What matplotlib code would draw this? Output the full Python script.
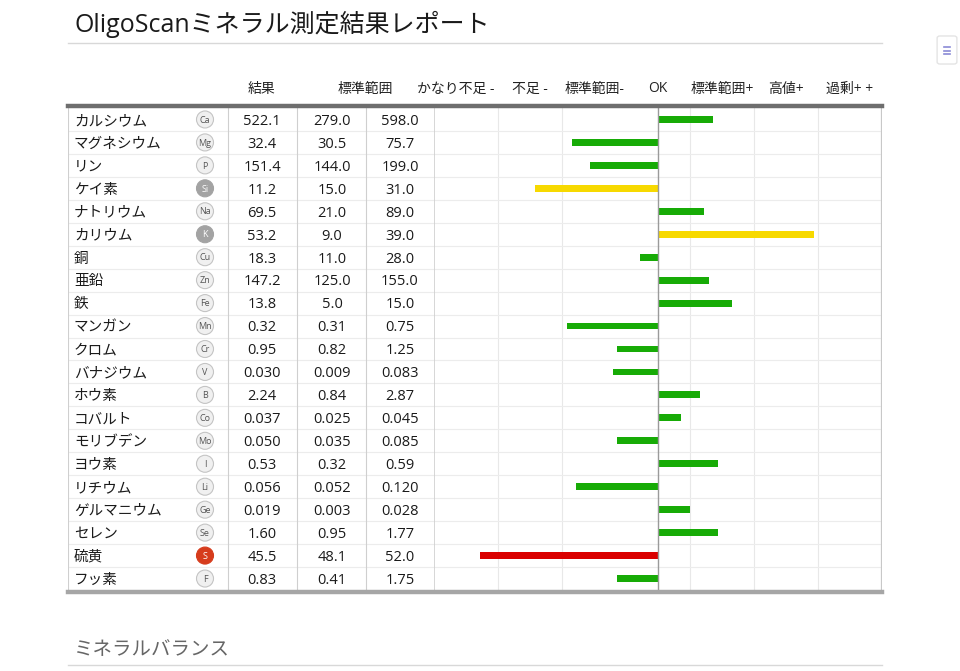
import matplotlib
matplotlib.use("Agg")
import matplotlib.pyplot as plt
from matplotlib.lines import Line2D
from matplotlib.patches import FancyBboxPatch

plt.rcParams['font.family'] = ['Open Sans', 'Noto Sans CJK JP', 'DejaVu Sans']

# --- data -------------------------------------------------------------
names = ["カルシウム", "マグネシウム", "リン", "ケイ素", "ナトリウム", "カリウム", "銅",
         "亜鉛", "鉄", "マンガン", "クロム", "バナジウム", "ホウ素", "コバルト",
         "モリブデン", "ヨウ素", "リチウム", "ゲルマニウム", "セレン", "硫黄", "フッ素"]
symbols = ["Ca", "Mg", "P", "Si", "Na", "K", "Cu", "Zn", "Fe", "Mn", "Cr", "V",
           "B", "Co", "Mo", "I", "Li", "Ge", "Se", "S", "F"]
results = ["522.1", "32.4", "151.4", "11.2", "69.5", "53.2", "18.3", "147.2", "13.8",
           "0.32", "0.95", "0.030", "2.24", "0.037", "0.050", "0.53", "0.056",
           "0.019", "1.60", "45.5", "0.83"]
range_low = ["279.0", "30.5", "144.0", "15.0", "21.0", "9.0", "11.0", "125.0", "5.0",
             "0.31", "0.82", "0.009", "0.84", "0.025", "0.035", "0.32", "0.052",
             "0.003", "0.95", "48.1", "0.41"]
range_high = ["598.0", "75.7", "199.0", "31.0", "89.0", "39.0", "28.0", "155.0", "15.0",
              "0.75", "1.25", "0.083", "2.87", "0.045", "0.085", "0.59", "0.120",
              "0.028", "1.77", "52.0", "1.75"]
# deviation from OK (one unit = one grade column)
deviation = [0.86, -1.35, -1.06, -1.92, 0.72, 2.43, -0.28, 0.79, 1.15, -1.42, -0.64,
             -0.71, 0.65, 0.36, -0.64, 0.93, -1.28, 0.50, 0.93, -2.78, -0.64]
status = ["ok", "ok", "ok", "warn", "ok", "warn", "ok", "ok", "ok", "ok", "ok", "ok",
          "ok", "ok", "ok", "ok", "ok", "ok", "ok", "bad", "ok"]
grades = ["かなり不足 -", "不足 -", "標準範囲-", "OK", "標準範囲+", "高値+", "過剰+ +"]
col_heads = ["結果", "標準範囲"]

bar_colors = {"ok": "#17ab06", "warn": "#f7d900", "bad": "#da0000"}
sym_fill = {"ok": "#f0f0f0", "warn": "#a3a3a3", "bad": "#d63c1c"}
sym_edge = {"ok": "#c4c4c4", "warn": "#a3a3a3", "bad": "#d63c1c"}
sym_text = {"ok": "#555555", "warn": "white", "bad": "white"}

W, H = 960, 671
fig = plt.figure(figsize=(W / 100, H / 100), dpi=100)


def fx(px):
    return px / W


def fy(py):
    return 1 - py / H


n = len(names)
top, bottom = 108, 590
dy_txt = 0.08  # nudge text down a little inside the rows

# title
fig.text(fx(74), fy(24), "OligoScanミネラル測定結果レポート", fontsize=18,
         color="#1a1a1a", va="center", ha="left")
fig.add_artist(Line2D([fx(68), fx(882)], [fy(43), fy(43)], color="#d8d8d8", lw=1))

# headers
fig.text(fx(262), fy(89), col_heads[0], fontsize=10, ha="center", va="center", color="#222")
fig.text(fx(365), fy(89), col_heads[1], fontsize=10, ha="center", va="center", color="#222")
for i, g in enumerate(grades):
    cx = 466 + 64 * i
    if i == 0:
        cx = 456
    fig.text(fx(cx), fy(89), g, fontsize=10, ha="center", va="center", color="#222")

# left table axes (pixel-like x units)
axt = fig.add_axes([fx(68), fy(bottom), fx(434) - fx(68), fy(top) - fy(bottom)])
axt.set_xlim(68, 434)
axt.set_ylim(n - 0.5, -0.5)
axt.axis("off")
axt.scatter([205] * n, range(n), s=150, c=[sym_fill[s] for s in status],
            edgecolors=[sym_edge[s] for s in status], linewidths=0.8, zorder=3)
for i in range(n):
    st = status[i]
    yt = i + dy_txt
    axt.text(74, yt, names[i], fontsize=10.5, va="center", ha="left", color="#1a1a1a")
    axt.text(205, i + 0.03, symbols[i], fontsize=6.5, va="center", ha="center",
             color=sym_text[st], zorder=4)
    axt.text(262, yt, results[i], fontsize=10.5, va="center", ha="center", color="#1a1a1a")
    axt.text(332, yt, range_low[i], fontsize=10.5, va="center", ha="center", color="#1a1a1a")
    axt.text(400, yt, range_high[i], fontsize=10.5, va="center", ha="center", color="#1a1a1a")
for i in range(1, n):
    axt.axhline(i - 0.5, color="#ececec", lw=0.8, zorder=0)
for xv in [68.5, 228, 297, 366]:
    axt.axvline(xv, color="#cfcfcf", lw=0.8, zorder=0)

# bar chart axes
ax = fig.add_axes([fx(434), fy(bottom), fx(882) - fx(434), fy(top) - fy(bottom)])
ax.barh(range(n), deviation, height=0.3, color=[bar_colors[s] for s in status], zorder=3)
ax.set_xlim(-3.5, 3.5)
ax.set_ylim(n - 0.5, -0.5)
for spine in ax.spines.values():
    spine.set_visible(False)
ax.set_xticks([])
ax.set_yticks([])
for xv in [-2.5, -1.5, 0.5, 1.5, 2.5]:
    ax.axvline(xv, color="#e8e8e8", lw=0.8, zorder=0)
ax.axvline(-3.5, color="#cfcfcf", lw=1.2, zorder=1)
ax.axvline(3.5, color="#c8c8c8", lw=1.6, zorder=1)
ax.axvline(0, color="#9a9a9a", lw=1.0, zorder=4)
for i in range(1, n):
    ax.axhline(i - 0.5, color="#ececec", lw=0.8, zorder=0)

# thick top / bottom rules
fig.add_artist(Line2D([fx(68), fx(882)], [fy(106), fy(106)], color="#6e6e6e", lw=3.2))
fig.add_artist(Line2D([fx(68), fx(882)], [fy(592), fy(592)], color="#a6a6a6", lw=3.2))

# next section heading
fig.text(fx(74), fy(650), "ミネラルバランス", fontsize=14, color="#666666",
         va="center", ha="left")
fig.add_artist(Line2D([fx(68), fx(882)], [fy(665), fy(665)], color="#d8d8d8", lw=1))

# floating menu button
fig.add_artist(FancyBboxPatch((fx(940), fy(62)), fx(14), fy(38) - fy(62),
                              boxstyle="round,pad=0.003", facecolor="white",
                              edgecolor="#e4e4e4", lw=1))
for dy in [47, 50.5, 54]:
    fig.add_artist(Line2D([fx(944), fx(950)], [fy(dy), fy(dy)], color="#8a8ad6", lw=1.2))

fig.savefig("out.png", dpi=100)
